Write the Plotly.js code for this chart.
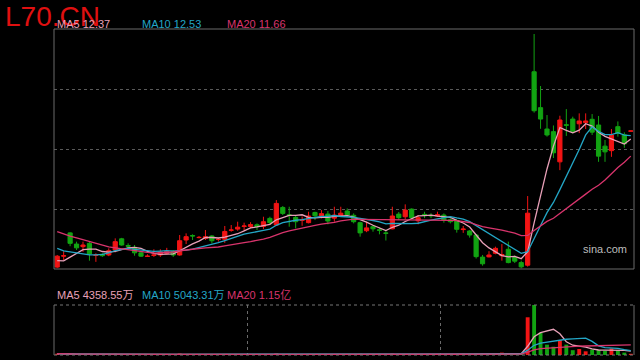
<!DOCTYPE html>
<html><head><meta charset="utf-8">
<script src="https://cdn.plot.ly/plotly-3.0.1.min.js"></script>
<style>html,body{margin:0;padding:0;background:#000;}#chart{width:640px;height:360px;}</style>
</head><body><div id="chart"></div>
<script>
const symbol = "L70.CN";
const opens = [6.98,7.44,8.42,7.95,7.84,7.98,7.47,7.52,7.49,7.70,
 8.17,7.89,7.81,7.58,7.43,7.47,7.49,7.56,7.65,7.49,
 8.12,8.31,8.22,8.19,8.29,8.14,8.15,8.53,8.58,8.69,
 8.69,8.76,8.69,9.03,8.75,9.49,9.18,9.07,8.95,8.85,
 9.28,9.13,9.21,9.04,9.16,9.34,9.16,8.85,8.51,8.68,
 8.55,8.42,8.59,9.21,9.10,9.42,8.93,9.20,9.16,9.14,
 9.17,8.97,8.94,8.56,8.50,8.33,7.40,7.41,7.56,7.46,
 7.73,7.39,7.17,7.06,15.20,13.69,12.79,12.68,11.41,12.97,
 13.21,13.01,13.06,13.20,12.96,12.07,11.88,12.89,12.55,12.70];
const highs = [7.49,7.65,8.45,8.05,8.05,8.05,7.56,7.56,7.77,8.19,
 8.21,7.98,7.91,7.62,7.52,7.73,7.73,7.79,7.70,8.33,
 8.40,8.36,8.29,8.54,8.33,8.21,8.71,8.75,8.89,8.85,
 8.87,8.82,9.10,9.10,9.80,9.55,9.52,9.17,9.11,9.31,
 9.31,9.38,9.34,9.52,9.52,9.45,9.24,8.89,8.89,8.76,
 8.65,8.54,9.52,9.30,9.62,9.45,9.17,9.31,9.25,9.31,
 9.24,9.03,8.99,8.71,8.54,8.37,7.49,7.65,7.84,7.95,
 8.05,7.47,7.25,9.97,16.79,14.60,13.38,12.94,13.35,13.63,
 13.31,13.45,13.45,13.42,13.34,12.33,12.79,13.11,12.65,12.72];
const lows = [6.94,7.28,7.86,7.70,7.62,7.25,7.20,7.41,7.44,7.60,
 7.88,7.74,7.46,7.41,7.41,7.41,7.41,7.52,7.41,7.46,
 7.95,8.12,8.19,8.12,7.98,8.05,8.00,8.47,8.51,8.54,
 8.62,8.54,8.58,8.75,8.72,9.17,8.68,8.61,8.72,8.82,
 8.96,9.03,8.78,8.89,9.10,9.10,8.82,8.26,8.45,8.47,
 8.36,8.10,8.57,8.96,9.00,9.01,8.78,9.04,9.04,9.09,
 8.85,8.82,8.43,8.42,8.22,7.34,7.04,7.39,7.52,7.25,
 7.14,7.15,6.93,7.00,13.48,12.80,12.47,11.57,11.06,12.50,
 12.61,12.62,12.79,12.54,11.41,11.41,11.62,12.47,12.00,12.70];
const closes = [7.44,7.46,7.98,7.79,7.91,7.53,7.49,7.46,7.67,8.05,
 7.91,7.86,7.58,7.44,7.44,7.49,7.62,7.65,7.49,8.09,
 8.26,8.29,8.23,8.26,8.09,8.15,8.48,8.54,8.66,8.71,
 8.77,8.68,8.89,8.85,9.66,9.24,9.16,8.89,8.96,9.13,
 9.14,9.23,8.92,9.17,9.25,9.17,8.89,8.42,8.63,8.59,
 8.53,8.40,9.13,9.06,9.38,9.06,9.06,9.18,9.14,9.18,
 8.96,8.89,8.57,8.58,8.33,7.42,7.12,7.49,7.77,7.51,
 7.17,7.23,6.99,9.25,13.56,13.21,12.54,11.79,13.17,12.95,
 12.69,13.13,13.13,12.66,11.65,11.83,12.54,12.61,12.17,12.71];
// closes before the visible window, estimated from where the MA lines start
const priorCloses = [9.6,9.5,9.4,9.3,9.2,9.1,9.0,8.95,8.85,8.8,
 8.55,8.4,8.25,8.15,8.1,7.5,7.2,7.05,7.06];
// volume in 万
const volumes = [1500,600,1400,900,700,1300,500,400,700,1300,
 900,500,800,500,400,500,700,600,600,1700,
 900,500,400,600,700,400,1200,500,700,500,
 500,600,900,800,1800,1000,900,800,600,900,
 700,600,900,800,700,700,900,1400,900,800,
 700,900,1700,900,1100,1000,800,500,400,400,
 700,500,1100,1500,800,1600,1200,700,900,2700,
 2000,1000,900,43000,57000,25500,11800,9400,17200,11800,
 5500,6800,4200,6300,5800,4800,7400,5500,2700,1400];
const maPeriods = [5, 10, 20];
const priceLegend = ["MA5 12.37", "MA10 12.53", "MA20 11.66"];
const volumeLegend = ["MA5 4358.55万", "MA10 5043.31万", "MA20 1.15亿"];

const UP = "#f21414", DOWN = "#12a312";
const MA_COLORS = ["#e8a0b8", "#23a6c6", "#d8346c"];
const FONT = "Liberation Sans, Arial, Noto Sans CJK SC, sans-serif";

const N = closes.length;
const idx = closes.map((_, i) => i);
function movingAvg(values, n, prior) {
  const all = prior.concat(values), off = prior.length;
  return values.map((_, i) => {
    const end = off + i + 1, start = Math.max(0, end - n);
    let s = 0; for (let k = start; k < end; k++) s += all[k];
    return s / (end - start);
  });
}
const traces = [{
  type: "candlestick", x: idx, open: opens, high: highs, low: lows, close: closes,
  xaxis: "x", yaxis: "y", hoverinfo: "skip",
  increasing: {line: {color: UP, width: 1}, fillcolor: UP},
  decreasing: {line: {color: DOWN, width: 1}, fillcolor: DOWN}
}];
maPeriods.forEach((p, k) => traces.push({
  type: "scatter", mode: "lines", x: idx, y: movingAvg(closes, p, priorCloses),
  xaxis: "x", yaxis: "y", line: {color: MA_COLORS[k], width: 1.3}, hoverinfo: "skip"
}));
traces.push({
  type: "bar", x: idx, y: volumes, xaxis: "x2", yaxis: "y2", hoverinfo: "skip",
  marker: {color: closes.map((c, i) => c >= opens[i] ? UP : DOWN), line: {width: 0}}
});
maPeriods.forEach((p, k) => traces.push({
  type: "scatter", mode: "lines", x: idx, y: movingAvg(volumes, p, []),
  xaxis: "x2", yaxis: "y2", line: {color: MA_COLORS[k], width: 1.3}, hoverinfo: "skip"
}));

const W = 640, H = 360, ML = 54, MR = 6, MT = 29, MB = 5;
const pw = W - ML - MR, ph = H - MT - MB;
const px = v => (v - ML) / pw, py = v => (H - MB - v) / ph;
const yr = [6.9, 17.0];
const vMax = Math.max(...volumes);
const gridVals = [1, 2, 3].map(k => yr[0] + (yr[1] - yr[0]) * k / 4);

const ann = [];
ann.push({text: symbol, xref: "paper", yref: "paper", x: px(3), y: py(16), xanchor: "left", yanchor: "middle",
  showarrow: false, font: {family: FONT, size: 28, color: "#e01010"}});
const legX = [55, 140, 225];
priceLegend.forEach((t, k) => ann.push({text: t, xref: "paper", yref: "paper", x: px(legX[k]), y: py(24),
  xanchor: "left", yanchor: "middle", showarrow: false, font: {family: FONT, size: 11, color: MA_COLORS[k]}}));
volumeLegend.forEach((t, k) => ann.push({text: t, xref: "paper", yref: "paper", x: px(legX[k]), y: py(295),
  xanchor: "left", yanchor: "middle", showarrow: false, font: {family: FONT, size: 11, color: MA_COLORS[k]}}));
ann.push({text: "sina.com", xref: "paper", yref: "paper", x: px(581), y: py(249), xanchor: "left", yanchor: "middle",
  showarrow: false, font: {family: FONT, size: 11, color: "#bdbdbd"}});

const BORDER = "#6a6a6a";
const shapes = [
  {type: "rect", xref: "x domain", yref: "y domain", x0: 0, x1: 1, y0: 0, y1: 1, line: {color: BORDER, width: 1}},
  {type: "line", xref: "x2 domain", yref: "y2 domain", x0: 0, x1: 0, y0: 0, y1: 1, line: {color: BORDER, width: 1}},
  {type: "line", xref: "x2 domain", yref: "y2 domain", x0: 1, x1: 1, y0: 0, y1: 1, line: {color: BORDER, width: 1}},
  {type: "line", xref: "x2 domain", yref: "y2 domain", x0: 0, x1: 1, y0: 1, y1: 1, line: {color: "#777", width: 1, dash: "dot"}},
  {type: "line", xref: "x2 domain", yref: "y2 domain", x0: 0, x1: 1, y0: 0, y1: 0, line: {color: "#777", width: 1, dash: "dot"}}
];

const layout = {
  width: W, height: H, paper_bgcolor: "#000", plot_bgcolor: "#000",
  margin: {l: ML, r: MR, t: MT, b: MB}, showlegend: false, bargap: 0.4, boxgap: 0.35, boxgroupgap: 0,
  xaxis: {range: [-0.5, N - 0.5], showgrid: false, zeroline: false, showticklabels: false, ticks: "",
    rangeslider: {visible: false}, fixedrange: true, anchor: "y"},
  yaxis: {domain: [py(269), 1], range: yr, tickvals: gridVals, showgrid: true, gridcolor: "#5a5a5a",
    griddash: "dot", gridwidth: 1, showticklabels: false, ticks: "", zeroline: false, anchor: "x"},
  xaxis2: {range: [-0.5, N - 0.5], tickvals: [N / 3 - 0.5, 2 * N / 3 - 0.5], showgrid: true, gridcolor: "#6a6a6a",
    griddash: "dot", showticklabels: false, ticks: "", zeroline: false, anchor: "y2"},
  yaxis2: {domain: [0, py(305)], range: [0, vMax], showgrid: false, showticklabels: false, ticks: "",
    zeroline: false, anchor: "x2"},
  shapes: shapes, annotations: ann
};
Plotly.newPlot("chart", traces, layout, {staticPlot: true, displayModeBar: false});
</script></body></html>
